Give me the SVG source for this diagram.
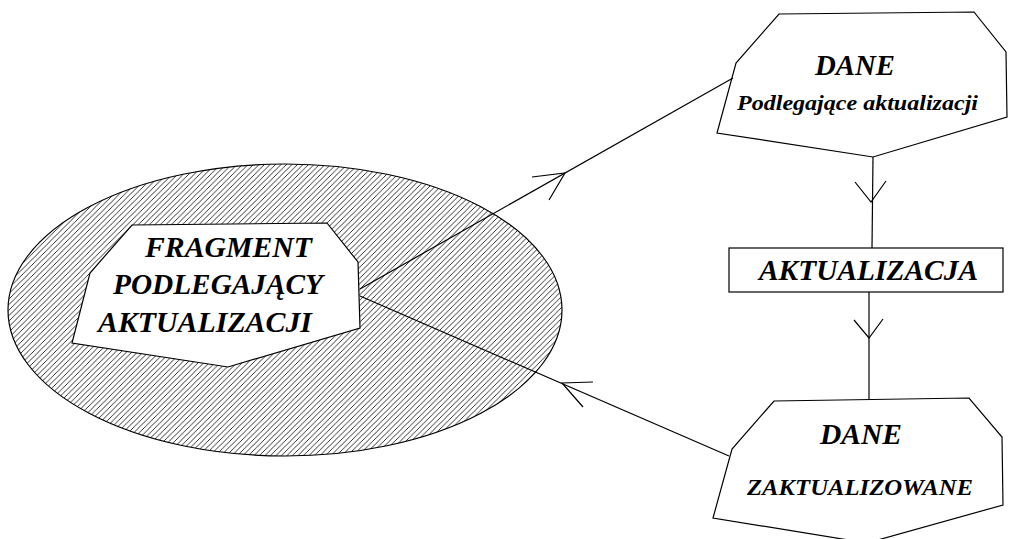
<svg xmlns="http://www.w3.org/2000/svg" width="1020" height="539" viewBox="0 0 1020 539">
<defs>
<pattern id="hatch" patternUnits="userSpaceOnUse" width="5.5" height="5.5">
<path d="M-1,1 L1,-1 M0,5.5 L5.5,0 M4.5,6.5 L6.5,4.5" stroke="#000" stroke-width="0.8"/>
</pattern>
<style>
.ln{fill:none;stroke:#000;stroke-width:1.2}
.nd{fill:#fff;stroke:#000;stroke-width:1.2}
.t{font-family:"Liberation Serif","Times New Roman",serif;font-weight:bold;font-style:italic;fill:#000}
</style>
</defs>
<rect width="1020" height="539" fill="#fff"/>
<g id="region">
<ellipse cx="285" cy="310" rx="277" ry="146" fill="url(#hatch)" stroke="#000" stroke-width="1.2"/>
</g>
<g id="fragment">
<polygon class="nd" points="132,225 327,223 358,262 360,328 228,367 72,343 90,273"/>
<text class="t" x="145" y="257" font-size="30" textLength="167" lengthAdjust="spacingAndGlyphs">FRAGMENT</text>
<text class="t" x="113" y="294" font-size="30" textLength="210" lengthAdjust="spacingAndGlyphs">PODLEGAJĄCY</text>
<text class="t" x="98" y="332" font-size="30" textLength="214" lengthAdjust="spacingAndGlyphs">AKTUALIZACJI</text>
</g>
<g id="dane1">
<polygon class="nd" points="779,14 974,12 1006,52 1007,117 873,157 717,133 736,63"/>
<text class="t" x="815" y="75" font-size="30" textLength="80" lengthAdjust="spacingAndGlyphs">DANE</text>
<text class="t" x="737" y="110" font-size="22" textLength="241" lengthAdjust="spacingAndGlyphs">Podlegające aktualizacji</text>
</g>
<g id="aktualizacja">
<rect class="nd" x="729" y="248" width="274" height="44"/>
<text class="t" x="759" y="280" font-size="30" textLength="219" lengthAdjust="spacingAndGlyphs">AKTUALIZACJA</text>
</g>
<g id="dane2">
<polygon class="nd" points="774,401 969,398 1002,437 1003,505 867,543 713,518 732,449"/>
<text class="t" x="820" y="444" font-size="30" textLength="82" lengthAdjust="spacingAndGlyphs">DANE</text>
<text class="t" x="747" y="495" font-size="24" textLength="226" lengthAdjust="spacingAndGlyphs">ZAKTUALIZOWANE</text>
</g>
<g id="connectors">
<line class="ln" x1="360" y1="289" x2="733" y2="78"/>
<polyline class="ln" points="532,177 565,173 549,200"/>
<line class="ln" x1="360" y1="296" x2="729" y2="456"/>
<polyline class="ln" points="593,382 562,383 583,407"/>
<line class="ln" x1="873" y1="157" x2="872" y2="248"/>
<polyline class="ln" points="855,182 871,202 886,181"/>
<line class="ln" x1="869" y1="292" x2="869" y2="399"/>
<polyline class="ln" points="854,320 869,338 883,319"/>
</g>
</svg>
